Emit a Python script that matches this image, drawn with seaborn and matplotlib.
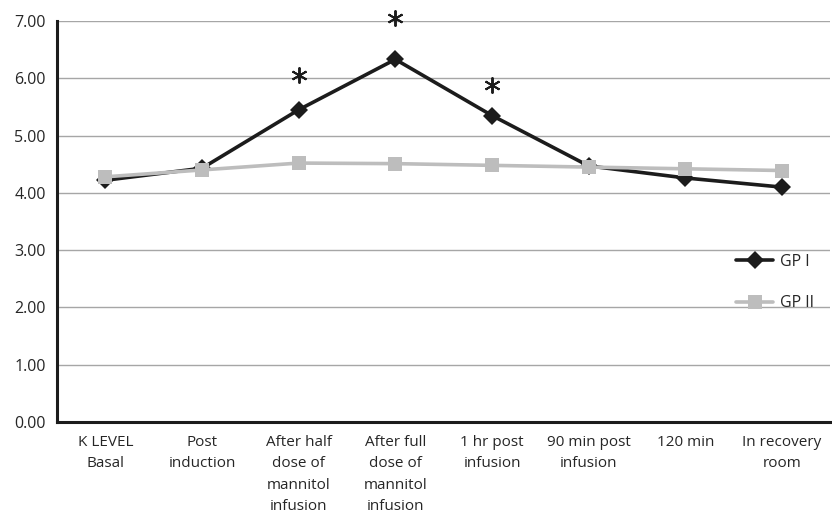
import numpy as np
import pandas as pd
import matplotlib
matplotlib.use("Agg")
import matplotlib.pyplot as plt
import seaborn as sns

# time points on the x axis
categories = ["K LEVEL\nBasal", "Post\ninduction", "After half\ndose of\nmannitol\ninfusion",
              "After full\ndose of\nmannitol\ninfusion", "1 hr post\ninfusion",
              "90 min post\ninfusion", "120 min", "In recovery\nroom"]

# potassium levels
gp1 = [4.22, 4.43, 5.45, 6.33, 5.35, 4.47, 4.26, 4.10]
gp2 = [4.28, 4.40, 4.52, 4.51, 4.48, 4.45, 4.42, 4.39]

# significant points get an asterisk (index, height of the star)
signif = [2, 3, 4]
star_y = [6.06, 7.05, 5.88]

y_ticks = [0, 1, 2, 3, 4, 5, 6, 7]

sns.set_style("white")
plt.rcParams["font.family"] = ["Open Sans", "DejaVu Sans"]

df = pd.DataFrame({
    "pos": list(range(len(categories))) * 2,
    "value": gp1 + gp2,
    "group": ["GP I"] * len(gp1) + ["GP II"] * len(gp2),
})

fig = plt.figure(figsize=(8.32, 5.17), dpi=100)
ax = fig.add_axes([57 / 832, 1 - 422 / 517, 1 - 57 / 832 - 0.002, (422 - 21) / 517])

for yv in y_ticks[1:]:
    ax.axhline(yv, color="#a6a6a6", lw=1.0, zorder=0)

sns.lineplot(data=df, x="pos", y="value", hue="group", style="group",
             markers={"GP I": "D", "GP II": "s"}, dashes=False,
             palette={"GP I": "#1c1c1c", "GP II": "#bdbdbd"},
             linewidth=2.6, markersize=9.5, markeredgewidth=0,
             ax=ax, sort=False)

# asterisks drawn as markers so they sit exactly at the given height
for i, sy in zip(signif, star_y):
    ax.plot(i, sy, marker=(6, 2, 0), markersize=11.5, markeredgewidth=1.4,
            color="#1c1c1c", clip_on=False, linestyle="none")

ax.set_xlim(-0.5, len(categories) - 0.5)
ax.set_ylim(0, 7)
ax.set_yticks(y_ticks)
ax.set_yticklabels([f"{v:.2f}" for v in y_ticks], fontsize=11.5)
ax.set_xticks(range(len(categories)))
ax.set_xticklabels(categories, fontsize=11, linespacing=1.6, va="top")
ax.set_xticks(np.arange(-0.5, len(categories)), minor=True)
ax.tick_params(axis="x", which="major", length=0, pad=9)
ax.tick_params(axis="x", which="minor", length=5, width=1, color="#333333")
ax.tick_params(axis="y", length=5, width=1, color="#333333", pad=3)
ax.set_xlabel("")
ax.set_ylabel("")

for s in ["top", "right"]:
    ax.spines[s].set_visible(False)
ax.spines["left"].set_linewidth(2.2)
ax.spines["left"].set_color("#1c1c1c")
ax.spines["bottom"].set_linewidth(2.2)
ax.spines["bottom"].set_color("#1c1c1c")

leg = ax.legend(loc="upper left", bbox_to_anchor=(0.86, 0.455), frameon=False,
                fontsize=11.5, handlelength=2.3, labelspacing=1.6, handletextpad=0.4)

fig.savefig("out.png", dpi=100)
